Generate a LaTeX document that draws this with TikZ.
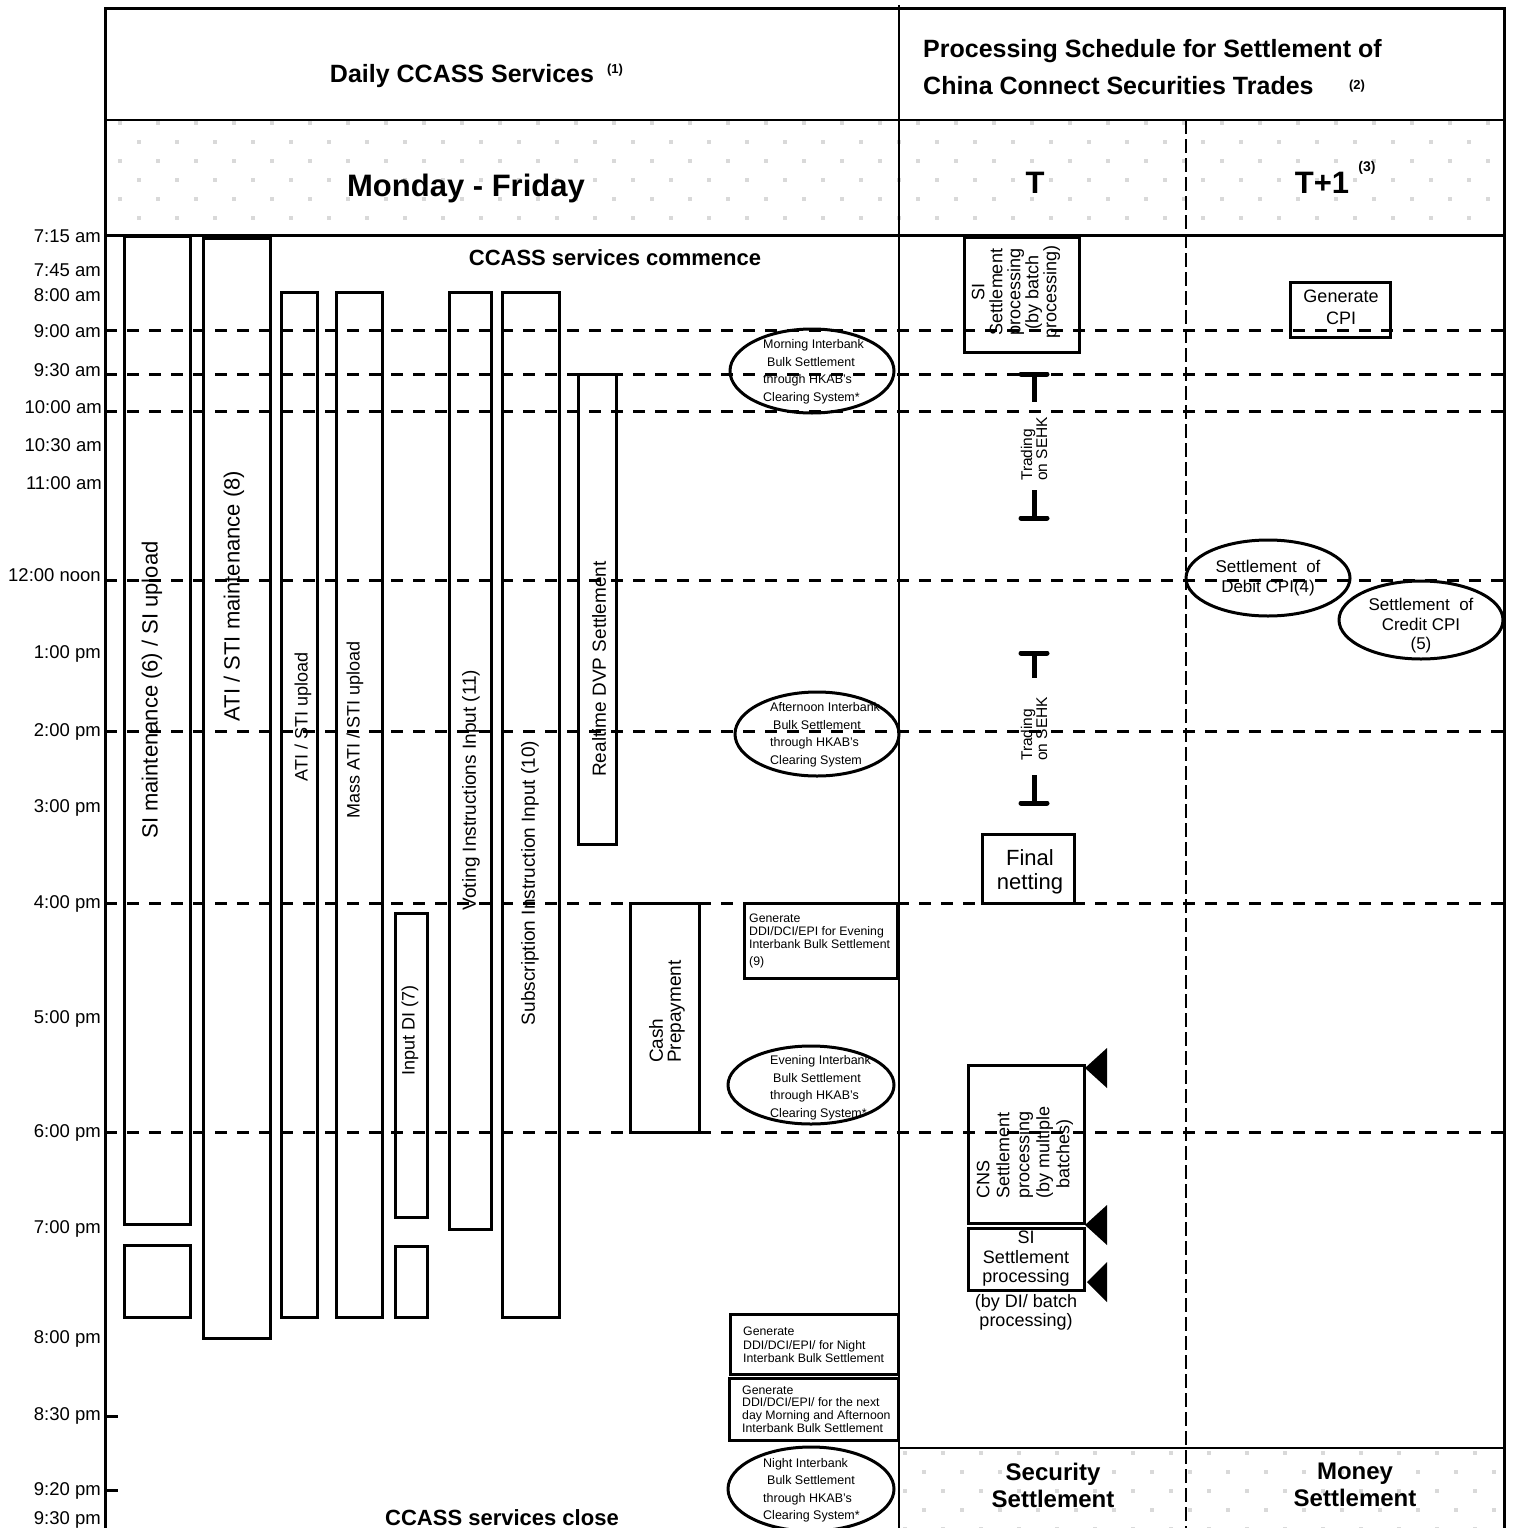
\documentclass[tikz,border=0pt]{standalone}
\usepackage{fontspec}
\setmainfont{Liberation Sans}
\usetikzlibrary{shapes.geometric}
\newcommand{\fsz}[2]{\fontsize{#1}{#2}\selectfont}
\newcommand{\rbox}[5]{\node[bar, minimum width={(#4-#2)*1pt}, minimum height={(#5-#3)*1pt}] (#1) at ({(#2+#4)/2},{(#3+#5)/2}) {};}
\tikzset{
  frameline/.style={line width=3pt},
  sepline/.style={line width=2.5pt},
  hdash/.style={line width=3pt, dash pattern=on 12pt off 10pt},
  vdash/.style={line width=1.5pt, dash pattern=on 14pt off 5pt},
  bar/.style={draw, line width=3pt, inner sep=0pt, outer sep=0pt},
  oval/.style={draw, ellipse, line width=3pt, inner sep=0pt},
  dotc/.style={fill=black!15},
  tlabel/.style={anchor=base east, inner sep=0pt, font=\fsz{18.5}{20}},
  vtext/.style={rotate=90, inner sep=0pt},
  tbar/.style={line width=5pt, line cap=round},
  tstem/.style={line width=5pt},
  tri/.style={fill=black},
  small/.style={inner sep=0pt, align=left, font=\fsz{12.5}{17.5}},
  gen/.style={inner sep=0pt, align=left, anchor=west, font=\fsz{12.3}{13.3}},
  hbold/.style={inner sep=0pt, font=\bfseries\fsz{25}{28}},
  fbold/.style={inner sep=0pt, font=\bfseries\fsz{24}{27}},
}
\begin{document}
\begin{tikzpicture}[x=1pt,y=-1pt]
\useasboundingbox (0,0) rectangle (1514,1528);

% dotted backgrounds
\begin{scope}
  \clip (105,120) rectangle (1504,235);
  \foreach \j in {0,...,5} { \foreach \i in {0,...,37} {
    \fill[dotc] ({118+19*mod(\j,2)+38*\i},{121+19*\j}) rectangle +(4,4); } }
\end{scope}
\begin{scope}
  \clip (899,1448) rectangle (1504,1528);
  \foreach \j in {0,...,4} { \foreach \i in {0,...,16} {
    \fill[dotc] ({903+19*mod(\j,2)+38*\i},{1451+19*\j}) rectangle +(4,4); } }
\end{scope}

% frame and separators
\draw[frameline] (105,1528) -- (105,9) -- (1504,9) -- (1504,1528);
\draw[sepline] (105,120) -- (1504,120);
\draw[frameline] (105,235) -- (1504,235);
\draw[sepline] (899,5) -- (899,1528);
\draw[sepline] (899,1448) -- (1504,1448);
\draw[vdash] (1186,120) -- (1186,1528);

% ticks
\draw[frameline] (105,1416) -- (118,1416);
\draw[frameline] (105,1490) -- (118,1490);

% boxes
\rbox{simaint}{124}{236}{190}{1224}
\rbox{simaintb}{124}{1245}{190}{1317}
\rbox{atimaint}{203}{238}{270}{1338}
\rbox{atiup}{281}{292}{317}{1317}
\rbox{massup}{336}{292}{382}{1317}
\rbox{inputdi}{395}{913}{427}{1217}
\rbox{inputdib}{395}{1246}{427}{1317}
\rbox{voting}{449}{292}{491}{1229}
\rbox{subscr}{502}{292}{559}{1317}
\rbox{dvp}{578}{374}{616}{844}
\rbox{cash}{630}{903}{699}{1132}
\rbox{genev}{744}{903}{897}{978}
\rbox{gennight}{730}{1314}{898}{1374}
\rbox{gennext}{729}{1378}{898}{1440}
\rbox{sibatch}{964}{237}{1079}{352}
\rbox{final}{982}{834}{1074}{903}
\rbox{gencpi}{1290}{282}{1390}{337}
\rbox{cns}{968}{1065}{1084}{1223}
\rbox{sidi}{968}{1228}{1084}{1290}

% ellipses
\node[oval, minimum width=164pt, minimum height=84pt] (morn) at (812,371) {};
\node[oval, minimum width=164pt, minimum height=84pt] (aft) at (817,734) {};
\node[oval, minimum width=166pt, minimum height=78pt] (eve) at (811,1085) {};
\node[oval, minimum width=166pt, minimum height=84pt] (night) at (811,1489) {};
\node[oval, minimum width=164pt, minimum height=76pt] (debit) at (1268,578) {};
\node[oval, minimum width=164pt, minimum height=78pt] (credit) at (1421,620) {};

% dashed time lines
\foreach \yy in {330,374,411,580,731,903,1132}
  \draw[hdash] (105,\yy) -- (1504,\yy);

% T-bars (trading on SEHK)
\draw[tbar] (1021,374) -- (1047,374);
\draw[tstem] (1034,374) -- (1034,402);
\draw[tstem] (1034,490) -- (1034,518);
\draw[tbar] (1021,518) -- (1047,518);
\draw[tbar] (1021,653) -- (1047,653);
\draw[tstem] (1034,653) -- (1034,678);
\draw[tstem] (1034,775) -- (1034,803);
\draw[tbar] (1021,803) -- (1047,803);

% triangles
\fill[tri] (1085,1068) -- (1107,1048) -- (1107,1088) -- cycle;
\fill[tri] (1085,1225) -- (1107,1205) -- (1107,1245) -- cycle;
\fill[tri] (1087,1282) -- (1107,1262) -- (1107,1302) -- cycle;

% time labels
\node[tlabel] (l715) at (101,242) {7:15 am};
\node[tlabel] (l745) at (101,276) {7:45 am};
\node[tlabel] (l800) at (101,301) {8:00 am};
\node[tlabel] (l900) at (101,337) {9:00 am};
\node[tlabel] (l930) at (101,376) {9:30 am};
\node[tlabel] (l1000) at (102,413) {10:00 am};
\node[tlabel] (l1030) at (102,451) {10:30 am};
\node[tlabel] (l1100) at (102,489) {11:00 am};
\node[tlabel] (l1200) at (101,581) {12:00 noon};
\node[tlabel] (l1300) at (101,658) {1:00 pm};
\node[tlabel] (l1400) at (101,736) {2:00 pm};
\node[tlabel] (l1500) at (101,812) {3:00 pm};
\node[tlabel] (l1600) at (101,908) {4:00 pm};
\node[tlabel] (l1700) at (101,1023) {5:00 pm};
\node[tlabel] (l1800) at (101,1137) {6:00 pm};
\node[tlabel] (l1900) at (101,1233) {7:00 pm};
\node[tlabel] (l2000) at (101,1343) {8:00 pm};
\node[tlabel] (l2030) at (101,1420) {8:30 pm};
\node[tlabel] (l2120) at (101,1495) {9:20 pm};
\node[tlabel] (l2130) at (101,1524) {9:30 pm};

% headers
\node[hbold, anchor=base] (hdaily) at (462,82) {Daily CCASS Services};
\node[inner sep=0pt, anchor=base, font=\bfseries\fsz{13}{15}] (hsup1) at (615,74) {(1)};
\node[hbold, anchor=base west] (hproc) at (923,58) {Processing Schedule for Settlement of};
\node[hbold, anchor=base west] (hchina) at (923,94) {China Connect Securities Trades};
\node[inner sep=0pt, anchor=base, font=\bfseries\fsz{13}{15}] (hsup2) at (1357,89) {(2)};
\node[inner sep=0pt, anchor=base, font=\bfseries\fsz{31}{34}] (hmon) at (466,196) {Monday - Friday};
\node[inner sep=0pt, anchor=base, font=\bfseries\fsz{31}{34}] (hT) at (1035,193) {T};
\node[inner sep=0pt, anchor=base, font=\bfseries\fsz{31}{34}] (hT1) at (1322,193) {T+1};
\node[inner sep=0pt, anchor=base, font=\bfseries\fsz{14}{16}] (hsup3) at (1367,171) {(3)};
\node[inner sep=0pt, anchor=base, font=\bfseries\fsz{22}{24}] (commence) at (615,265) {CCASS services commence};
\node[inner sep=0pt, anchor=base, font=\bfseries\fsz{22}{24}] (close) at (502,1525) {CCASS services close};
\node[fbold, align=center] (secset) at (1053,1485) {Security\\Settlement};
\node[fbold, align=center] (monset) at (1355,1485) {Money\\Settlement};

% vertical texts in bars
\node[vtext, font=\fsz{22}{24}] (tsimaint) at (152,690) {SI maintenance (6) / SI upload};
\node[vtext, font=\fsz{22}{24}] (tatimaint) at (234,596) {ATI / STI maintenance (8)};
\node[vtext, font=\fsz{18}{20}] (tatiup) at (303,717) {ATI / STI upload};
\node[vtext, font=\fsz{18}{20}] (tmassup) at (355,730) {Mass ATI / STI upload};
\node[vtext, font=\fsz{18}{20}] (tinputdi) at (410,1030) {Input DI (7)};
\node[vtext, font=\fsz{19}{21}] (tvoting) at (471,790) {Voting Instructions Input (11)};
\node[vtext, font=\fsz{19}{21}] (tsubscr) at (530,883) {Subscription Instruction Input (10)};
\node[vtext, font=\fsz{19}{21}] (tdvp) at (599,669) {Realtime DVP Settlement};
\node[vtext, anchor=west, align=left, font=\fsz{19}{18}] (tcash) at (667,1063) {Cash\\Prepayment};

% ellipse texts
\node[small, anchor=west] (tmorn) at (763,372) {Morning Interbank\\\hspace{4pt}Bulk Settlement\\through HKAB’s\\Clearing System*};
\node[small, anchor=west] (taft) at (770,735) {Afternoon Interbank\\\hspace{3pt}Bulk Settlement\\through HKAB’s\\Clearing System};
\node[small, anchor=west] (teve) at (770,1088) {Evening Interbank\\\hspace{3pt}Bulk Settlement\\through HKAB’s\\Clearing System*};
\node[small, anchor=west] (tnight) at (763,1490) {Night Interbank\\\hspace{4pt}Bulk Settlement\\through HKAB’s\\Clearing System*};

% generate boxes texts
\node[gen] (tgenev) at (749,941) {Generate\\DDI/DCI/EPI for Evening\\Interbank Bulk Settlement\\[3.5pt](9)};
\node[gen] (tgennight) at (743,1345) {Generate\\DDI/DCI/EPI/ for Night\\Interbank Bulk Settlement};
\node[gen, font=\fsz{12.3}{12.7}] (tgennext) at (742,1409) {Generate\\DDI/DCI/EPI/ for the next\\day Morning and Afternoon\\Interbank Bulk Settlement};

% T / T+1 column texts
\node[vtext, align=center, font=\fsz{18}{18}] (tsibatch) at (1016,292) {SI\\Settlement\\processing\\(by batch\\processing)};
\node[vtext, anchor=west, align=left, font=\fsz{15.5}{15}] (ttrade1) at (1034,481) {Trading\\on SEHK};
\node[vtext, anchor=west, align=left, font=\fsz{15.5}{15}] (ttrade2) at (1034,761) {Trading\\on SEHK};
\node[inner sep=0pt, align=center, font=\fsz{22}{24}] (tfinal) at (1030,872) {Final\\netting};
\node[vtext, anchor=west, align=left, font=\fsz{18}{20}] (tcns) at (1025,1199) {CNS\\Settlement\\processing\\(by multiple\\\hspace{10pt}batches)};
\node[inner sep=0pt, align=center, font=\fsz{18}{19.5}] (tsidi) at (1026,1281) {SI\\Settlement\\processing\\[5pt](by DI/ batch\\processing)};
\node[inner sep=0pt, align=center, font=\fsz{18}{22}] (tgencpi) at (1341,307) {Generate\\CPI};
\node[inner sep=0pt, align=center, font=\fsz{17}{20}] (tdebit) at (1268,578) {Settlement\ \ of\\Debit CPI(4)};
\node[inner sep=0pt, align=center, font=\fsz{17}{19.5}] (tcredit) at (1421,626) {Settlement\ \ of\\Credit CPI\\(5)};
\end{tikzpicture}
\end{document}
